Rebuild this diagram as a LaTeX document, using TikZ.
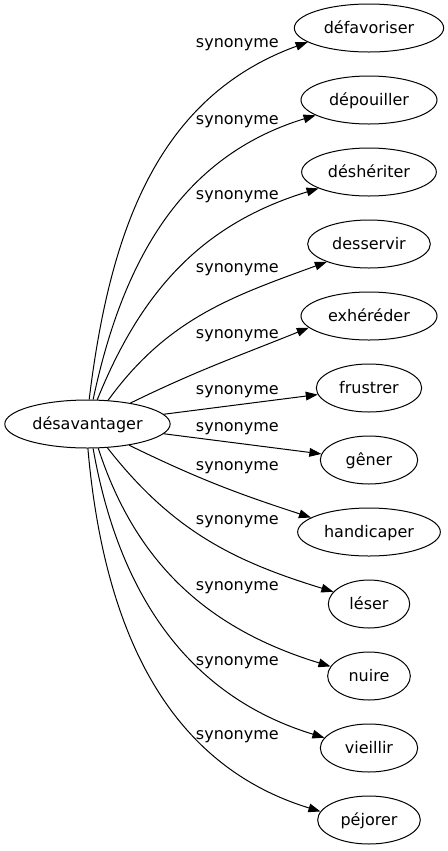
\documentclass[tikz,border=0pt]{standalone}
\usepackage{fontspec}
\setmainfont{DejaVu Sans}
\usetikzlibrary{arrows.meta,shapes.geometric}
\usetikzlibrary{positioning}
\tikzset{
    word/.style={
           ellipse,
           draw=black, line width=0.75pt,
           minimum height=36pt,
           inner sep=1pt,
           text height=9pt, text depth=1pt,
           font=\fontsize{12pt}{14pt}\selectfont,
           },
    syn/.style={
           inner sep=0pt,
           font=\fontsize{12pt}{14pt}\selectfont,
           },
}

\begin{document}
\begin{tikzpicture}[->,>={Triangle[length=9pt,width=6.5pt]},line width=0.75pt,node distance=54pt]

 \useasboundingbox (0,0) rectangle (336pt,-638.25pt);

 % the word on the left
 \node[word, minimum width=124pt] (desav) at (65.6pt,-318pt) {désavantager};

 % its synonyms, one column on the right
 % widths taken one by one, spacing from node distance
 \node[word, minimum width=112pt] (defav) at (276.75pt,-21pt) {défavoriser};
 \node[word, minimum width=102pt, below of=defav] (depou) {dépouiller};
 \node[word, minimum width=101pt, below of=depou] (desher) {déshériter};
 \node[word, minimum width=92pt, below of=desher] (desserv) {desservir};
 \node[word, minimum width=102pt, below of=desserv] (exher) {exhéréder};
 \node[word, minimum width=79pt, below of=exher] (frust) {frustrer};
 \node[word, minimum width=73pt, below of=frust] (gener) {gêner};
 \node[word, minimum width=107pt, below of=gener] (handi) {handicaper};
 \node[word, minimum width=61pt, below of=handi] (leser) {léser};
 \node[word, minimum width=62pt, below of=leser] (nuire) {nuire};
 \node[word, minimum width=73pt, below of=nuire] (vieil) {vieillir};
 \node[word, minimum width=77pt, below of=vieil] (pejor) {péjorer};

 % edge labels
 \node[syn] (s1) at (178pt,-33.75pt) {synonyme};
 \node[syn] (s2) at (178pt,-91.5pt) {synonyme};
 \node[syn] (s3) at (178pt,-147.75pt) {synonyme};
 \node[syn] (s4) at (178pt,-202.5pt) {synonyme};
 \node[syn] (s5) at (178pt,-252pt) {synonyme};
 \node[syn] (s6) at (178pt,-294pt) {synonyme};
 \node[syn] (s7) at (178pt,-321.75pt) {synonyme};
 \node[syn] (s8) at (178pt,-351pt) {synonyme};
 \node[syn] (s9) at (178pt,-391.5pt) {synonyme};
 \node[syn] (s10) at (178pt,-441pt) {synonyme};
 \node[syn] (s11) at (178pt,-497.25pt) {synonyme};
 \node[syn] (s12) at (178pt,-552.75pt) {synonyme};

 % the arrows
 \path (desav.86) edge[out=83,in=200] (defav.193)
       (desav.77) edge[out=78,in=197] (depou.196)
       (desav.68) edge[out=68,in=197] (desher.198)
       (desav.49) edge[out=54,in=200] (desserv.203)
       (desav.26) edge[out=26,in=202] (exher.191)
       (desav) edge (frust)
       (desav) edge (gener)
       (desav.-27) edge[out=-26,in=162] (handi.166)
       (desav.-50) edge[out=-52,in=163] (leser.161)
       (desav.-66) edge[out=-72,in=163] (nuire.166)
       (desav.-77) edge[out=-80,in=163] (vieil.167)
       (desav.-89) edge[out=-85,in=163] (pejor.170)
 ;
\end{tikzpicture}
\end{document}
